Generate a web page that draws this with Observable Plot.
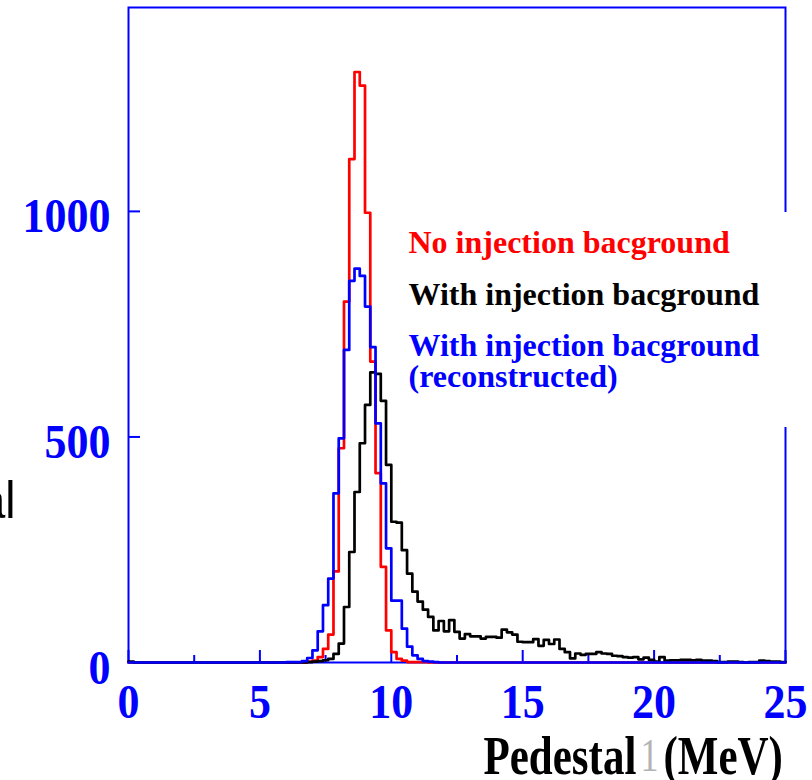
<!DOCTYPE html>
<html>
<head>
<meta charset="utf-8">
<script src="https://cdn.jsdelivr.net/npm/d3@7"></script>
<script src="https://cdn.jsdelivr.net/npm/@observablehq/plot@0.6"></script>
<style>
html,body{margin:0;padding:0;background:#fff;}
#chart{width:812px;height:780px;overflow:hidden;}
</style>
</head>
<body>
<div id="chart"></div>
<script>
// ---- data (bin width 0.2 MeV, 125 bins from 0 to 25 MeV) ----
const binWidth = 0.2;
const noInjection = [
  0,0,0,0,0,0,0,0,0,0,
  0,0,0,0,0,0,0,0,0,0,
  0,0,0,0,0,0,0,0,0,0,
  0,0,0,0,2,4,12,30,62,202,
  475,800,1116,1309,1279,997,667,420,212,71,
  23,8,4,1,1,1,1,0,0,0,
  0,0,0,0,0,0,0,0,0,0,
  0,0,0,0,0,0,0,0,0,0,
  0,0,0,0,0,0,0,0,0,0,
  0,0,0,0,0,0,0,0,0,0,
  0,0,0,0,0,0,0,0,0,0,
  0,0,0,0,0,0,0,0,0,0,
  0,0,0,0,0
];
const withInjection = [
  2,0,0,0,0,0,0,0,0,0,
  0,0,0,0,0,0,0,0,0,0,
  0,0,0,0,0,0,0,0,0,0,
  0,0,0,0,1,2,3,5,8,19,
  42,123,245,378,486,571,643,640,580,438,
  312,310,249,197,157,135,117,101,71,92,
  69,94,68,53,63,58,58,53,57,57,
  55,73,67,62,46,45,45,52,37,50,
  41,51,30,23,9,20,17,19,19,23,
  20,19,15,14,12,11,12,7,11,6,
  2,12,4,5,5,6,6,5,6,4,
  4,3,1,1,2,2,1,0,1,1,
  4,3,2,2,1
];
const withInjectionReco = [
  0,0,0,0,0,0,0,0,0,0,
  0,0,0,0,0,0,0,0,0,0,
  0,0,0,0,0,0,0,0,0,0,
  1,1,1,3,10,27,69,127,186,375,
  497,693,846,873,857,789,699,530,397,253,
  137,137,75,35,16,8,3,2,1,0,
  0,0,0,0,0,0,0,0,0,0,
  0,0,0,0,0,0,0,0,0,0,
  0,0,0,0,0,0,0,0,0,0,
  0,0,0,0,0,0,0,0,0,0,
  0,0,0,0,0,0,0,0,0,0,
  0,0,0,0,0,0,0,0,0,0,
  0,0,0,0,0
];
const xTicks = [0, 5, 10, 15, 20, 25];
const xMinorTicks = [2.5, 7.5, 12.5, 17.5, 22.5];
const yTicks = [0, 500, 1000];
const legendLabels = ["No injection bacground", "With injection bacground", "With injection bacground", "(reconstructed)"];
const legendColors = ["#ff0000", "#000000", "#0000ff", "#0000ff"];
const legendBaselines = [252, 304, 355, 386];
const xTitle = "Pedestal";
const xTitleGhost = "1";
const xTitleUnit = "(MeV)";
const leftFragment = "al";

// ---- helpers ----
function steps(values) {
  const pts = values.map((v, i) => ({x: i * binWidth, y: v}));
  pts.push({x: values.length * binWidth, y: values[values.length - 1]});
  return pts;
}

const W = 812, H = 780;
const mL = 128, mR = 27, mT = 7, mB = 118;
const FW = W - mL - mR, FH = H - mT - mB;
const serif = "'Liberation Serif','Times New Roman',serif";
const blue = "#0000ff";
const kTick = 1.12, kTitle = 1.3, kFrag = 1.12;
const tickFont = 44, titleFont = 43, fragFont = 46;

const legendMarks = legendLabels.map((t, i) =>
  Plot.text([t], {
    frameAnchor: "top-left", dx: 408 - mL, dy: legendBaselines[i] - mT - 0.32 * 32,
    textAnchor: "start", lineAnchor: "middle",
    fill: legendColors[i], fontSize: 32, fontWeight: "bold", fontFamily: serif
  })
);

const titleDy = 773 - (H - mB) - kTitle * 0.32 * titleFont;

const plot = Plot.plot({
  width: W, height: H,
  marginLeft: mL, marginRight: mR, marginTop: mT, marginBottom: mB,
  x: {domain: [0, 25], axis: null},
  y: {domain: [0, 1452], axis: null},
  style: {background: "#fff", overflow: "visible"},
  marks: [
    Plot.frame({stroke: blue, strokeWidth: 2}),
    Plot.tickX(xTicks, {x: d => d, stroke: blue, strokeWidth: 2, insetTop: FH - 12}),
    Plot.tickX(xMinorTicks, {x: d => d, stroke: blue, strokeWidth: 2, insetTop: FH - 7}),
    Plot.tickY(yTicks, {y: d => d, stroke: blue, strokeWidth: 2, insetRight: FW - 12}),
    Plot.line(steps(noInjection), {x: "x", y: "y", curve: "step-after", stroke: "#ff0000", strokeWidth: 2.7}),
    Plot.line(steps(withInjection), {x: "x", y: "y", curve: "step-after", stroke: "#000000", strokeWidth: 2.7}),
    Plot.line(steps(withInjectionReco), {x: "x", y: "y", curve: "step-after", stroke: blue, strokeWidth: 2.7}),
    Plot.text(xTicks, {x: d => d, frameAnchor: "bottom", dy: 717 - (H - mB) - kTick * 0.32 * tickFont, text: d => String(d),
      lineAnchor: "middle", fill: blue, fontSize: tickFont, fontWeight: "bold", fontFamily: serif}),
    Plot.text(yTicks, {y: d => d, frameAnchor: "left", dx: -18, dy: 21 - kTick * 0.32 * tickFont, text: d => String(d),
      textAnchor: "end", lineAnchor: "middle", fill: blue, fontSize: tickFont, fontWeight: "bold", fontFamily: serif}),
    Plot.text([xTitle], {frameAnchor: "bottom-left", dx: 483 - mL, dy: titleDy,
      textAnchor: "start", lineAnchor: "middle", fill: "#000", fontSize: titleFont, fontWeight: "bold", fontFamily: serif}),
    Plot.text([xTitleGhost], {frameAnchor: "bottom-left", dx: 640 - mL, dy: titleDy,
      textAnchor: "start", lineAnchor: "middle", fill: "#b4b4b4", fontSize: 36, fontFamily: serif}),
    Plot.text([xTitleUnit], {frameAnchor: "bottom-left", dx: 663 - mL, dy: titleDy,
      textAnchor: "start", lineAnchor: "middle", fill: "#000", fontSize: titleFont, fontWeight: "bold", fontFamily: serif}),
    Plot.text([leftFragment], {frameAnchor: "top-left", dx: 15 - mL, dy: 517 - mT - kFrag * 0.32 * fragFont,
      textAnchor: "end", lineAnchor: "middle", fill: "#000", fontSize: fragFont,
      fontFamily: "'Liberation Sans',Arial,sans-serif"}),
    ...legendMarks
  ]
});

// vertical stretch of some texts, as in the reference rendering
function stretch(contents, k) {
  for (const t of plot.querySelectorAll("text")) {
    if (contents.includes(t.textContent)) {
      const tr = t.getAttribute("transform");
      if (tr) t.setAttribute("transform", tr + ` scale(1,${k})`);
    }
  }
}
stretch(xTicks.map(String).concat(yTicks.map(String)), kTick);
stretch([xTitle, xTitleGhost, xTitleUnit], kTitle);
stretch([leftFragment], kFrag);

// white legend box that interrupts the right frame line (drawn beneath legend text)
let firstLegendGroup = null;
for (const t of plot.querySelectorAll("text")) {
  if (t.textContent === legendLabels[0]) {
    let g = t;
    while (g.parentNode && g.parentNode !== plot) g = g.parentNode;
    firstLegendGroup = g;
    break;
  }
}
const box = document.createElementNS("http://www.w3.org/2000/svg", "rect");
box.setAttribute("x", 402);
box.setAttribute("y", 212);
box.setAttribute("width", W - 402);
box.setAttribute("height", 427 - 212);
box.setAttribute("fill", "#ffffff");
if (firstLegendGroup) plot.insertBefore(box, firstLegendGroup);
else plot.appendChild(box);

document.getElementById("chart").appendChild(plot);
</script>
</body>
</html>
